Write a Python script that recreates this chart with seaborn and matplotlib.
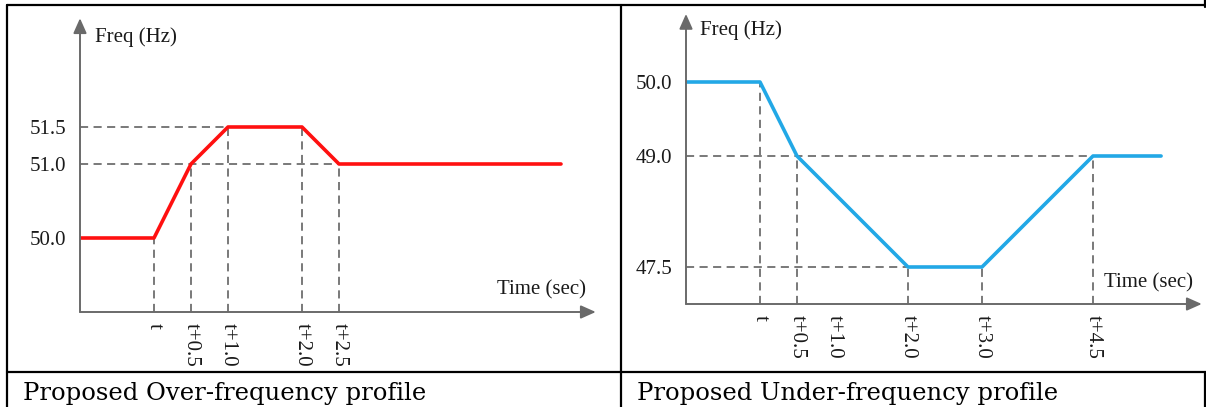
import matplotlib
matplotlib.use("Agg")
import matplotlib.pyplot as plt
from matplotlib.lines import Line2D
import numpy as np
import seaborn as sns

# over-frequency profile (time offset from t in sec, freq in Hz)
over_time = [-1.0, 0.0, 0.5, 1.0, 2.0, 2.5, 5.5]
over_freq = [50.0, 50.0, 51.0, 51.5, 51.5, 51.0, 51.0]
over_yticks = [50.0, 51.0, 51.5]
over_xticks = [0.0, 0.5, 1.0, 2.0, 2.5]
over_xlabels = ["t", "t+0.5", "t+1.0", "t+2.0", "t+2.5"]

# under-frequency profile
under_time = [-1.0, 0.0, 0.5, 2.0, 3.0, 4.5, 5.42]
under_freq = [50.0, 50.0, 49.0, 47.5, 47.5, 49.0, 49.0]
under_yticks = [47.5, 49.0, 50.0]
under_xticks = [0.0, 0.5, 1.0, 2.0, 3.0, 4.5]
under_xlabels = ["t", "t+0.5", "t+1.0", "t+2.0", "t+3.0", "t+4.5"]

captions = ["Proposed Over-frequency profile", "Proposed Under-frequency profile"]

sns.set_theme(style="white")
plt.rcParams["font.family"] = ["Liberation Serif", "DejaVu Serif"]

W, H = 1206, 407
fig = plt.figure(figsize=(W / 100, H / 100), dpi=100)
fig.patch.set_facecolor("white")

AX_COL = "#6a6a6a"
DASH_COL = "#6e6e6e"
TXT = "#1a1a1a"
FS = 15


def px_axes(x0, y_base, ymin):
    # 74 px per unit on both axes, 7 x-units and 4 y-units
    ax = fig.add_axes([x0 / W, (H - y_base) / H, 518 / W, 296 / H])
    ax.set_xlim(-1, 6)
    ax.set_ylim(ymin, ymin + 4)
    ax.patch.set_alpha(0)
    return ax


def draw(ax, tt, ff, color, yticks, xticks, xlabels, ymin, ytop, freq_pos, time_pos):
    tt = np.array(tt)
    ff = np.array(ff)
    inner_t = tt[1:-1]
    inner_f = ff[1:-1]
    dash = dict(color=DASH_COL, lw=1.3, ls=(0, (4.5, 3)), zorder=1)
    # vertical guides at each break point
    for x, y in zip(inner_t, inner_f):
        ax.plot([x, x], [ymin, y], **dash)
    # horizontal guides at each level except the start level
    for lev in yticks:
        if lev == ff[0]:
            continue
        xm = inner_t[inner_f == lev].max()
        ax.plot([-1, xm], [lev, lev], **dash)

    sns.lineplot(x=tt, y=ff, ax=ax, color=color, linewidth=2.6, zorder=3)

    # axes with arrows
    arr = dict(arrowstyle="-|>,head_length=0.9,head_width=0.4", color=AX_COL,
               lw=1.4, shrinkA=0, shrinkB=0, mutation_scale=10)
    ax.annotate("", xy=(5.97, ymin), xytext=(-1, ymin), arrowprops=arr,
                annotation_clip=False)
    ax.annotate("", xy=(-1, ytop), xytext=(-1, ymin), arrowprops=arr,
                annotation_clip=False)

    ax.set_yticks(yticks)
    ax.set_yticklabels(["%.1f" % v for v in yticks])
    ax.set_xticks(xticks)
    ax.set_xticklabels(xlabels, rotation=-90)
    ax.tick_params(axis="both", length=0, labelsize=FS, labelcolor=TXT)
    ax.tick_params(axis="y", pad=10)
    ax.tick_params(axis="x", pad=8)
    sns.despine(ax=ax, left=True, bottom=True, top=True, right=True)
    ax.set_xlabel("")
    ax.set_ylabel("")

    ax.text(freq_pos[0], freq_pos[1], "Freq (Hz)", fontsize=FS, color=TXT,
            ha="left", va="center")
    ax.text(time_pos[0], time_pos[1], "Time (sec)", fontsize=FS, color=TXT,
            ha="right", va="center")


ax1 = px_axes(80, 312, 49.0)
draw(ax1, over_time, over_freq, "#ff1010", over_yticks, over_xticks, over_xlabels,
     49.0, 52.97, (-0.8, 52.72), (5.84, 49.3))

ax2 = px_axes(686, 304, 47.0)
draw(ax2, under_time, under_freq, "#22a8e6", under_yticks, under_xticks, under_xlabels,
     47.0, 50.92, (-0.81, 50.7), (5.85, 47.28))

# table borders
def hline(y, x0, x1):
    fig.add_artist(Line2D([x0 / W, x1 / W], [(H - y) / H, (H - y) / H],
                          color="black", lw=1.6))


def vline(x, y0, y1):
    fig.add_artist(Line2D([x / W, x / W], [(H - y0) / H, (H - y1) / H],
                          color="black", lw=1.6))


hline(5, 7, W)
hline(372, 7, W)
vline(7, 5, H)
vline(621, 5, H)
vline(1205, 0, 7)
vline(1205, 372, H)

for xc, cap in zip([23, 637], captions):
    fig.text(xc / W, 7 / H, cap, fontsize=17.5, color="black", ha="left",
             va="baseline", family=["DejaVu Serif"])

fig.savefig("out.png", dpi=100, facecolor="white")
